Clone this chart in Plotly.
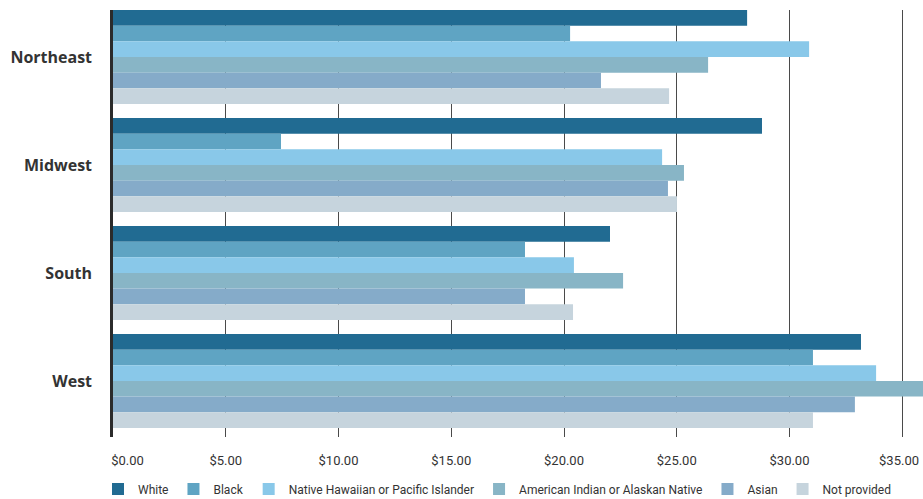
import plotly.graph_objects as go

regions = ["Northeast", "Midwest", "South", "West"]

white = [28.12, 28.78, 22.04, 33.17]
black = [20.27, 7.45, 18.27, 31.04]
nhpi = [30.87, 24.35, 20.44, 33.84]
aian = [26.39, 25.32, 22.62, 36.40]
asian = [21.64, 24.61, 18.27, 32.90]
not_provided = [24.66, 25.01, 20.40, 31.04]

series_names = ["White", "Black", "Native Hawaiian or Pacific Islander",
                "American Indian or Alaskan Native", "Asian", "Not provided"]
series_values = [white, black, nhpi, aian, asian, not_provided]
colors = ["#216b92", "#5fa4c3", "#89c8e9", "#88b5c6", "#85abc9", "#c6d4dd"]

tick_vals = [0, 5, 10, 15, 20, 25, 30, 35]
tick_text = ["$0.00", "$5.00", "$10.00", "$15.00", "$20.00", "$25.00", "$30.00", "$35.00"]
# first label sits right of the axis start, last one kept inside the right edge
shown_ticks = ["\u00a0" * 9 + tick_text[0]] + tick_text[1:-1] + [tick_text[-1] + "\u00a0\u00a0"]

FONT = "Roboto, Liberation Sans, sans-serif"

W, H = 923, 499
L, T, B = 113, 10, 62
plot_w, plot_h = W - L, H - T - B

fig = go.Figure()
for name, vals, col in zip(series_names, series_values, colors):
    fig.add_trace(go.Bar(
        y=regions, x=vals, name=name, orientation="h",
        marker=dict(color=col, line=dict(width=0)),
        hovertemplate="%{y}: $%{x:.2f}<extra>" + name + "</extra>",
    ))

fig.update_layout(
    width=W, height=H,
    margin=dict(l=L, r=0, t=T, b=B, autoexpand=False),
    paper_bgcolor="white", plot_bgcolor="white",
    barmode="group", bargap=0.13, bargroupgap=0,
    font=dict(family=FONT, color="#333333", size=13),
    showlegend=True,
    legend=dict(
        orientation="h", xref="paper", yref="paper",
        x=-15 / plot_w, y=(H - B - 489) / plot_h, xanchor="left", yanchor="middle",
        font=dict(family=FONT, size=12, color="#333333"),
        itemwidth=30, traceorder="normal",
        bgcolor="rgba(0,0,0,0)",
    ),
    xaxis=dict(
        range=[0, 35.92], tickvals=tick_vals, ticktext=shown_ticks,
        showgrid=True, gridcolor="#4a4a4a", gridwidth=1.3,
        zeroline=False, showline=False, ticks="",
        ticklabelstandoff=14, automargin=False, ticklabeloverflow="allow",
        tickfont=dict(family=FONT, size=13, color="#333333"),
        fixedrange=True,
    ),
    yaxis=dict(
        range=[3.519, -0.435], showgrid=False, zeroline=False,
        showline=True, linecolor="#2b2b2b", linewidth=2.5,
        ticks="", ticklabelstandoff=15, automargin=False,
        tickfont=dict(family="Open Sans, sans-serif", size=16, color="#333333", weight="bold"),
        fixedrange=True,
    ),
)

# remove the browser's default 8px page margin so the figure fills the window
fig.write_html(
    "out.html",
    config={"displayModeBar": False},
    post_script="document.body.style.margin='0';document.documentElement.style.overflow='hidden';",
)
